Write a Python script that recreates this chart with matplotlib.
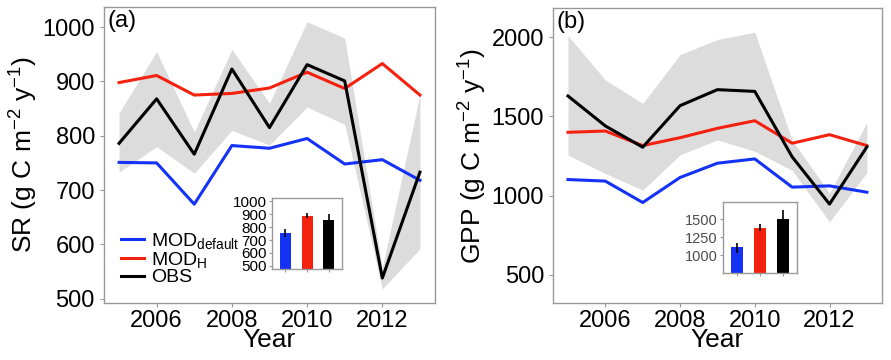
import numpy as np
import matplotlib.pyplot as plt

plt.rcParams['font.family'] = ['Liberation Sans', 'DejaVu Sans']
plt.rcParams['mathtext.fontset'] = 'custom'
plt.rcParams['mathtext.rm'] = 'Liberation Sans'
plt.rcParams['mathtext.it'] = 'Liberation Sans'

years = np.arange(2005, 2014)

# (a) soil respiration
sr_default = [751, 750, 674, 782, 777, 795, 748, 756, 718]
sr_h = [898, 911, 875, 878, 888, 917, 887, 933, 875]
sr_obs = [786, 868, 766, 923, 815, 931, 901, 538, 733]
sr_obs_hi = [842, 955, 807, 959, 860, 1010, 980, 557, 876]
sr_obs_lo = [733, 780, 731, 810, 783, 853, 821, 518, 592]
sr_bar = [754, 888, 855]
sr_bar_err_lo = [726, 870, 805]
sr_bar_err_hi = [782, 906, 902]

# (b) GPP
gpp_default = [1102, 1092, 957, 1115, 1205, 1232, 1054, 1062, 1022]
gpp_h = [1400, 1408, 1316, 1366, 1425, 1473, 1331, 1385, 1316]
gpp_obs = [1629, 1440, 1306, 1568, 1669, 1658, 1245, 947, 1308]
gpp_obs_hi = [2010, 1730, 1582, 1890, 1985, 2031, 1350, 1016, 1462]
gpp_obs_lo = [1256, 1140, 1035, 1258, 1352, 1280, 1160, 835, 1145]
gpp_bar = [1106, 1381, 1495]
gpp_bar_err_lo = [1030, 1328, 1372]
gpp_bar_err_hi = [1165, 1431, 1624]

BLUE = '#1432f5'
RED = '#f5210f'
BLACK = '#000000'
GREY = '#dcdcdc'
FRAME = '#999999'

fig = plt.figure(figsize=(8.91, 3.6), dpi=100)


def style_axes(ax, tick_size, tick_color='black'):
    for s in ax.spines.values():
        s.set_color(FRAME)
        s.set_linewidth(1.0)
    ax.tick_params(colors=FRAME, labelcolor=tick_color, labelsize=tick_size,
                   length=3, width=0.8)


def main_panel(rect, d, h, obs, lo, hi, ylim, yticks, ylabel, tag):
    ax = fig.add_axes(rect)
    ax.fill_between(years, lo, hi, color=GREY, lw=0)
    ax.plot(years, d, color=BLUE, lw=2.2, label=r'MOD$_{\mathregular{default}}$')
    ax.plot(years, h, color=RED, lw=2.2, label=r'MOD$_{\mathregular{H}}$')
    ax.plot(years, obs, color=BLACK, lw=2.2, label='OBS')
    ax.set_xlim(2004.6, 2013.4)
    ax.set_ylim(*ylim)
    ax.set_xticks([2006, 2008, 2010, 2012])
    ax.set_yticks(yticks)
    style_axes(ax, 17)
    ax.tick_params(axis='x', pad=2)
    ax.set_xlabel('Year', fontsize=19, labelpad=-3)
    ax.set_ylabel(ylabel, fontsize=19, labelpad=2)
    ax.text(0.01, 0.99, tag, transform=ax.transAxes, ha='left', va='top',
            fontsize=17)
    return ax


def inset(rect, vals, lo, hi, ylim, yticks, tick_color, size):
    ax = fig.add_axes(rect)
    x = np.arange(1, 4)
    vals = np.array(vals)
    ax.bar(x, vals, width=0.5, color=[BLUE, RED, BLACK])
    ax.errorbar(x, vals, yerr=[vals - np.array(lo), np.array(hi) - vals],
                fmt='none', ecolor='black', elinewidth=1.2, capsize=0)
    ax.set_xlim(0.4, 3.6)
    ax.set_ylim(*ylim)
    ax.set_xticks(x)
    ax.set_xticklabels([])
    ax.set_yticks(yticks)
    style_axes(ax, size, tick_color)
    ax.tick_params(length=2.5, pad=1.5)
    return ax


ax_a = main_panel([0.1167, 0.1583, 0.3715, 0.822], sr_default, sr_h, sr_obs,
                  sr_obs_lo, sr_obs_hi, (492, 1037),
                  [500, 600, 700, 800, 900, 1000],
                  r'SR (g C m$^{\mathregular{-2}}$ y$^{\mathregular{-1}}$)', '(a)')
ax_a.legend(loc='lower left', bbox_to_anchor=(0.0, 0.0), frameon=False,
            fontsize=14, handlelength=1.2, handletextpad=0.35,
            labelspacing=-0.05, borderaxespad=0.45)

main_panel([0.6207, 0.1583, 0.369, 0.819], gpp_default, gpp_h, gpp_obs,
           gpp_obs_lo, gpp_obs_hi, (323, 2183), [500, 1000, 1500, 2000],
           r'GPP (g C m$^{\mathregular{-2}}$ y$^{\mathregular{-1}}$)', '(b)')

inset([0.3053, 0.2528, 0.0786, 0.197], sr_bar, sr_bar_err_lo, sr_bar_err_hi,
      (476, 1024), [500, 600, 700, 800, 900, 1000], 'black', 11)
inset([0.8114, 0.2417, 0.083, 0.197], gpp_bar, gpp_bar_err_lo, gpp_bar_err_hi,
      (750, 1736), [1000, 1250, 1500], '#4d4d4d', 10.5)

fig.savefig('out.png', dpi=100)
